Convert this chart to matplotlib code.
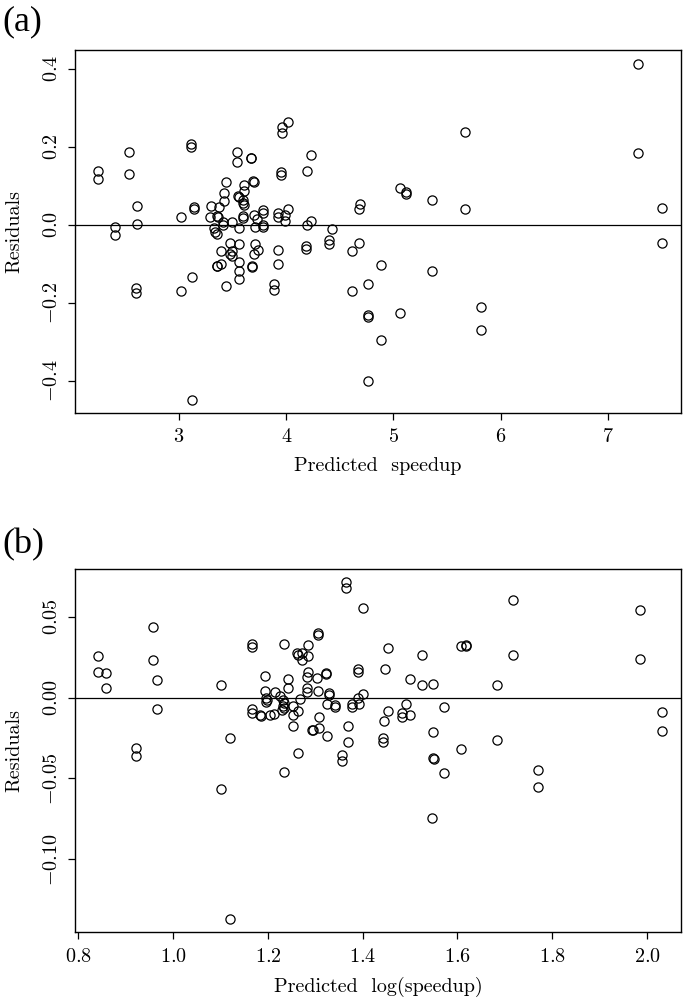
"""Residual plots: (a) predicted speedup, (b) predicted log(speedup)."""

import matplotlib
matplotlib.use("Agg")
import matplotlib.pyplot as plt
from matplotlib.ticker import FixedLocator

plt.rcParams["font.family"] = "cmr10"
plt.rcParams["mathtext.fontset"] = "cm"
plt.rcParams["axes.formatter.use_mathtext"] = True

# (a) predicted speedup vs residuals
pred_a = [
    2.24, 2.24, 2.40, 2.40, 2.53, 2.53, 2.61, 2.61, 2.60, 2.60,
    3.02, 3.02, 3.11, 3.11, 3.14, 3.14, 3.12, 3.12,
    3.30, 3.29, 3.37, 3.35, 3.36, 3.33, 3.34, 3.35, 3.35, 3.35,
    3.39, 3.39, 3.41, 3.41, 3.42, 3.42, 3.44, 3.44, 3.48, 3.48,
    3.49, 3.49, 3.49, 3.54, 3.54, 3.55, 3.555,
    3.56, 3.56, 3.56, 3.56, 3.56,
    3.60, 3.60, 3.61, 3.60, 3.60, 3.61, 3.61,
    3.67, 3.675, 3.68, 3.685, 3.69, 3.695,
    3.70, 3.70, 3.71, 3.71, 3.73, 3.74,
    3.78, 3.78, 3.78, 3.78, 3.89, 3.89,
    3.92, 3.92, 3.92, 3.92, 3.95, 3.95, 3.96, 3.96, 3.99, 3.99,
    4.02, 4.02, 4.18, 4.18, 4.19, 4.19, 4.23, 4.23,
    4.43, 4.40, 4.40,
    4.61, 4.61, 4.68, 4.69, 4.68, 4.76, 4.76, 4.76, 4.76,
    4.88, 4.88, 5.06, 5.06, 5.12, 5.12, 5.36, 5.36,
    5.67, 5.67, 5.82, 5.82, 7.28, 7.28, 7.50, 7.50,
]
resid_a = [
    0.139, 0.117, -0.005, -0.027, 0.187, 0.129, 0.047, 0.003, -0.162, -0.176,
    0.019, -0.170, 0.207, 0.200, 0.045, 0.040, -0.134, -0.450,
    0.048, 0.019, 0.046, 0.023, 0.019, -0.009, -0.018, -0.025, -0.105, -0.107,
    -0.068, -0.101, 0.008, -0.001, 0.082, 0.061, 0.110, -0.157, -0.046, -0.075,
    0.007, -0.068, -0.080, 0.186, 0.160, 0.074, 0.071,
    -0.009, -0.050, -0.095, -0.118, -0.140,
    0.063, 0.055, 0.051, 0.022, 0.016, 0.102, 0.087,
    0.172, 0.170, -0.107, -0.109, 0.112, 0.110,
    0.024, -0.076, -0.005, -0.050, 0.014, -0.065,
    0.038, 0.029, -0.001, -0.005, -0.153, -0.168,
    0.029, 0.021, -0.065, -0.102, 0.136, 0.128, 0.252, 0.235, 0.025, 0.010,
    0.263, 0.040, -0.055, -0.062, 0.137, 0.000, 0.179, 0.009,
    -0.012, -0.040, -0.049,
    -0.068, -0.169, 0.040, 0.053, -0.048, -0.153, -0.232, -0.238, -0.401,
    -0.103, -0.295, 0.093, -0.226, 0.085, 0.079, 0.063, -0.119,
    0.238, 0.040, -0.212, -0.270, 0.413, 0.184, 0.044, -0.048,
]

# (b) predicted log(speedup) vs residuals
pred_b = [
    0.841, 0.841, 0.858, 0.858, 0.921, 0.921, 0.958, 0.958, 0.965, 0.965,
    1.102, 1.102, 1.120, 1.120,
    1.166, 1.166, 1.166, 1.166, 1.184, 1.186, 1.194, 1.194,
    1.197, 1.199, 1.197, 1.204, 1.213, 1.214, 1.226, 1.229,
    1.232, 1.234, 1.232, 1.233, 1.233, 1.233, 1.243, 1.243,
    1.254, 1.254, 1.254, 1.261, 1.264, 1.273, 1.273, 1.285, 1.284,
    1.263, 1.264, 1.267, 1.284, 1.282, 1.282, 1.282,
    1.293, 1.295, 1.303, 1.305, 1.306, 1.306, 1.308, 1.308,
    1.322, 1.323, 1.324, 1.324, 1.328, 1.328, 1.342, 1.342,
    1.356, 1.356, 1.365, 1.365, 1.368, 1.368, 1.377, 1.378,
    1.391, 1.391, 1.391, 1.392, 1.400, 1.401,
    1.442, 1.442, 1.446, 1.447, 1.453, 1.453,
    1.482, 1.482, 1.491, 1.500, 1.500, 1.525, 1.525,
    1.549, 1.549, 1.549, 1.550, 1.547, 1.572, 1.572,
    1.608, 1.608, 1.618, 1.619, 1.683, 1.683, 1.717, 1.717,
    1.770, 1.770, 1.986, 1.986, 2.031, 2.031,
]
resid_b = [
    0.026, 0.016, 0.0155, 0.006, -0.031, -0.036, 0.044, 0.023, 0.011, -0.007,
    0.008, -0.0565, -0.025, -0.137,
    0.0332, 0.0312, -0.0072, -0.0093, -0.0110, -0.0112, 0.0134, 0.0043,
    0.0000, -0.0014, -0.0029, -0.0107, -0.0101, 0.0033, 0.0010, -0.0076,
    -0.0014, -0.0035, -0.0051, -0.0066, 0.0332, -0.0458, 0.0118, 0.0058,
    -0.0051, -0.0107, -0.0175, 0.0279, 0.0264, 0.0279, 0.0233, 0.0258, 0.0324,
    -0.0344, -0.0080, -0.0010, 0.0160, 0.0130, 0.0058, 0.0037,
    -0.0203, -0.0200, 0.0120, 0.0043, 0.0398, 0.0386, -0.0121, -0.0186,
    0.0152, 0.0146, -0.0039, -0.0237, 0.0030, 0.0017, -0.0045, -0.0060,
    -0.0355, -0.0392, 0.0718, 0.0677, -0.0173, -0.0272, -0.0039, -0.0056,
    0.0180, 0.0160, -0.0004, -0.0041, 0.0553, 0.0023,
    -0.0251, -0.0272, -0.0142, 0.0176, 0.0308, -0.0085,
    -0.0093, -0.0121, -0.0039, 0.0118, -0.0107, 0.0266, 0.0079,
    0.0083, -0.0210, -0.0375, -0.0380, -0.0744, -0.0056, -0.0468,
    0.0320, -0.0320, 0.0324, 0.0322, 0.0079, -0.0260, 0.0605, 0.0264,
    -0.0449, -0.0553, 0.0543, 0.0240, -0.0087, -0.0208,
]

xticks_a = [3, 4, 5, 6, 7]
yticks_a = [-0.4, -0.2, 0.0, 0.2, 0.4]
xticks_b = [0.8, 1.0, 1.2, 1.4, 1.6, 1.8, 2.0]
yticks_b = [-0.10, -0.05, 0.00, 0.05]


def panel(ax, x, y, xticks, yticks, xlabel, xlim, ylim):
    ax.plot(x, y, "o", mfc="none", mec="black", ms=6.6, mew=0.9, ls="none")
    ax.axhline(0, color="black", lw=0.9)
    ax.set_xlim(*xlim)
    ax.set_ylim(*ylim)
    ax.xaxis.set_major_locator(FixedLocator(xticks))
    ax.yaxis.set_major_locator(FixedLocator(yticks))
    ax.tick_params(length=5, width=0.9, labelsize=14.5, direction="out")
    ax.tick_params(axis="x", pad=6)
    ax.tick_params(axis="y", labelrotation=90, pad=5)
    for lab in ax.get_yticklabels():
        lab.set_va("center")
    for s in ax.spines.values():
        s.set_linewidth(1.0)
    ax.set_xlabel(xlabel, fontsize=14.5, labelpad=8)
    ax.set_ylabel("Residuals", fontsize=14.5, labelpad=14)


fig = plt.figure(figsize=(6.85, 10), dpi=100)
ax_a = fig.add_axes([0.1095, 0.587, 0.8845, 0.363])
ax_b = fig.add_axes([0.1095, 0.0677, 0.8845, 0.3633])

panel(ax_a, pred_a, resid_a, xticks_a, yticks_a, "Predicted  speedup",
      (2.03, 7.68), (-0.4834, 0.4485))
panel(ax_b, pred_b, resid_b, xticks_b, yticks_b, "Predicted  log(speedup)",
      (0.793, 2.0715), (-0.1452, 0.0796))

fig.text(0.003, 0.978, "(a)", fontsize=26, family="Liberation Serif", va="center")
fig.text(0.003, 0.455, "(b)", fontsize=26, family="Liberation Serif", va="center")

fig.savefig("out.png", dpi=100)
